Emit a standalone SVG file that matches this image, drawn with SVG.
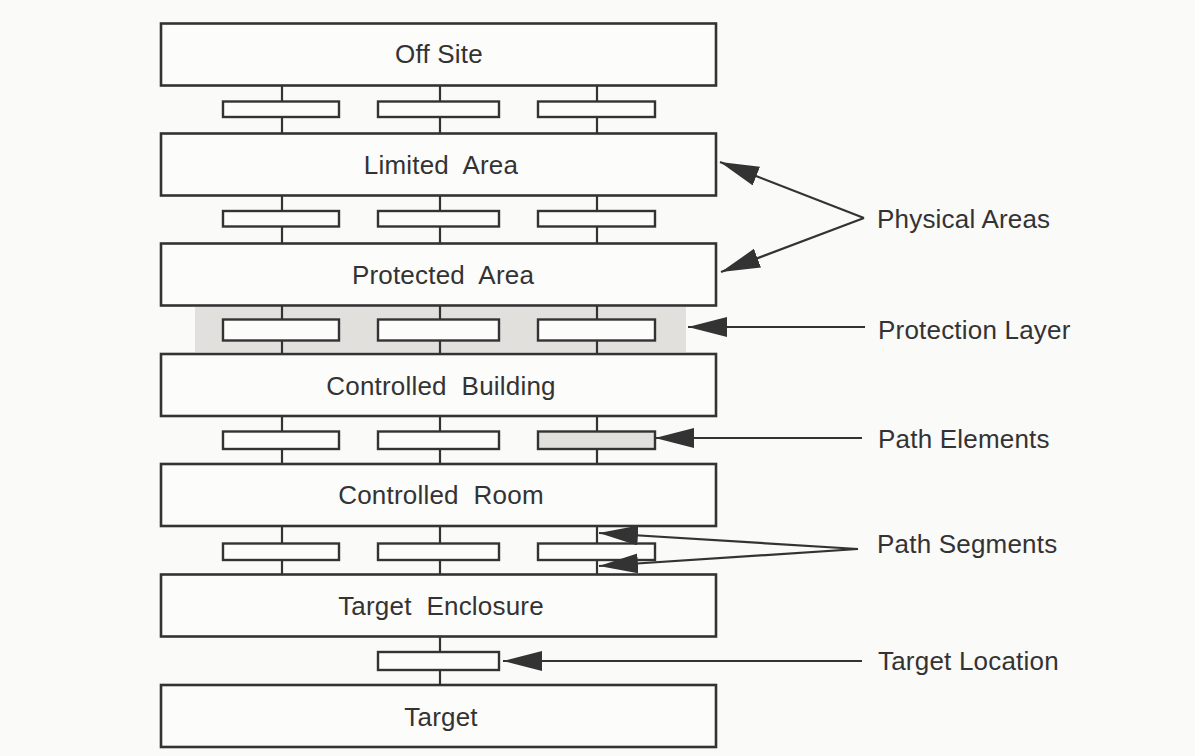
<svg xmlns="http://www.w3.org/2000/svg" width="1195" height="756" viewBox="0 0 1195 756">
  <style>
    .area { fill: #fcfcfb; stroke: #333; stroke-width: 2.6; }
    .elem { fill: #fcfcfb; stroke: #333; stroke-width: 2.4; }
    .elem.hi { fill: #e2e0dc; }
    .seg { stroke: #333; stroke-width: 2.2; fill: none; }
    .lbl { font-family: "Liberation Sans", Arial, sans-serif; font-size: 26px; letter-spacing: 0.2px; fill: #333; }
    .mid { text-anchor: middle; }
    .ptr { stroke: #333; stroke-width: 2.2; fill: none; marker-end: url(#head); }
  </style>
  <defs>
    <marker id="head" markerUnits="userSpaceOnUse" markerWidth="40" markerHeight="22" refX="39" refY="10" orient="auto">
      <path d="M0,0 L39,10 L0,20 Z" fill="#333"/>
    </marker>
  </defs>
  <rect width="1195" height="756" fill="#fafaf9"/>

  <!-- protection layer band -->
  <rect x="195" y="307" width="491" height="45" fill="#e2e0dc"/>

  <!-- vertical path segments -->
  <g id="segments">
    <path class="seg" d="M282,86 V133 M440,86 V133 M597,86 V133"/>
    <path class="seg" d="M282,195 V243 M440,195 V243 M597,195 V243"/>
    <path class="seg" d="M282,305 V353 M440,305 V353 M597,305 V353"/>
    <path class="seg" d="M282,416 V463 M440,416 V463 M597,416 V463"/>
    <path class="seg" d="M282,525 V574 M440,525 V574 M597,525 V574"/>
    <path class="seg" d="M440,636 V685"/>
  </g>

  <!-- physical areas -->
  <g id="off-site"><rect class="area" x="161" y="23.5" width="555" height="62"/><text class="lbl mid" x="439" y="63">Off Site</text></g>
  <g id="limited-area"><rect class="area" x="161" y="133.5" width="555" height="62"/><text class="lbl mid" x="441" y="174" xml:space="preserve">Limited  Area</text></g>
  <g id="protected-area"><rect class="area" x="161" y="243.5" width="555" height="62"/><text class="lbl mid" x="443" y="284" xml:space="preserve">Protected  Area</text></g>
  <g id="controlled-building"><rect class="area" x="161" y="354" width="555" height="62"/><text class="lbl mid" x="441" y="395" xml:space="preserve">Controlled  Building</text></g>
  <g id="controlled-room"><rect class="area" x="161" y="464" width="555" height="62"/><text class="lbl mid" x="441" y="504" xml:space="preserve">Controlled  Room</text></g>
  <g id="target-enclosure"><rect class="area" x="161" y="574.5" width="555" height="62"/><text class="lbl mid" x="441" y="615" xml:space="preserve">Target  Enclosure</text></g>
  <g id="target"><rect class="area" x="161" y="685" width="555" height="62"/><text class="lbl mid" x="441" y="726">Target</text></g>

  <!-- path elements -->
  <g id="elements-1">
    <rect class="elem" x="223" y="101.5" width="116" height="15.5"/>
    <rect class="elem" x="378" y="101.5" width="121" height="15.5"/>
    <rect class="elem" x="538" y="101.5" width="117" height="15.5"/>
  </g>
  <g id="elements-2">
    <rect class="elem" x="223" y="211" width="116" height="15.5"/>
    <rect class="elem" x="378" y="211" width="121" height="15.5"/>
    <rect class="elem" x="538" y="211" width="117" height="15.5"/>
  </g>
  <g id="elements-3">
    <rect class="elem" x="223" y="319.5" width="116" height="21"/>
    <rect class="elem" x="378" y="319.5" width="121" height="21"/>
    <rect class="elem" x="538" y="319.5" width="117" height="21"/>
  </g>
  <g id="elements-4">
    <rect class="elem" x="223" y="431.5" width="116" height="17.5"/>
    <rect class="elem" x="378" y="431.5" width="121" height="17.5"/>
    <rect class="elem hi" x="538" y="431.5" width="117" height="17.5"/>
  </g>
  <g id="elements-5">
    <rect class="elem" x="223" y="543.5" width="116" height="16.5"/>
    <rect class="elem" x="378" y="543.5" width="121" height="16.5"/>
    <rect class="elem" x="538" y="543.5" width="117" height="16.5"/>
  </g>
  <g id="target-location-element">
    <rect class="elem" x="378" y="652" width="121" height="18"/>
  </g>

  <!-- callout pointers -->
  <g id="connectors">
    <path class="ptr" d="M864,218 L720,162"/>
    <path class="ptr" d="M864,218 L721,272"/>
    <path class="ptr" d="M865,327 L688,327"/>
    <path class="ptr" d="M862,438 L655,438"/>
    <path class="ptr" d="M858,549 L599,533"/>
    <path class="ptr" d="M858,549 L599,566"/>
    <path class="ptr" d="M862,661 L503,661"/>
  </g>

  <!-- callout labels -->
  <g id="labels">
    <text class="lbl" x="877" y="228">Physical Areas</text>
    <text class="lbl" x="878" y="339">Protection Layer</text>
    <text class="lbl" x="878" y="448">Path Elements</text>
    <text class="lbl" x="877" y="553">Path Segments</text>
    <text class="lbl" x="878" y="670">Target Location</text>
  </g>
</svg>
